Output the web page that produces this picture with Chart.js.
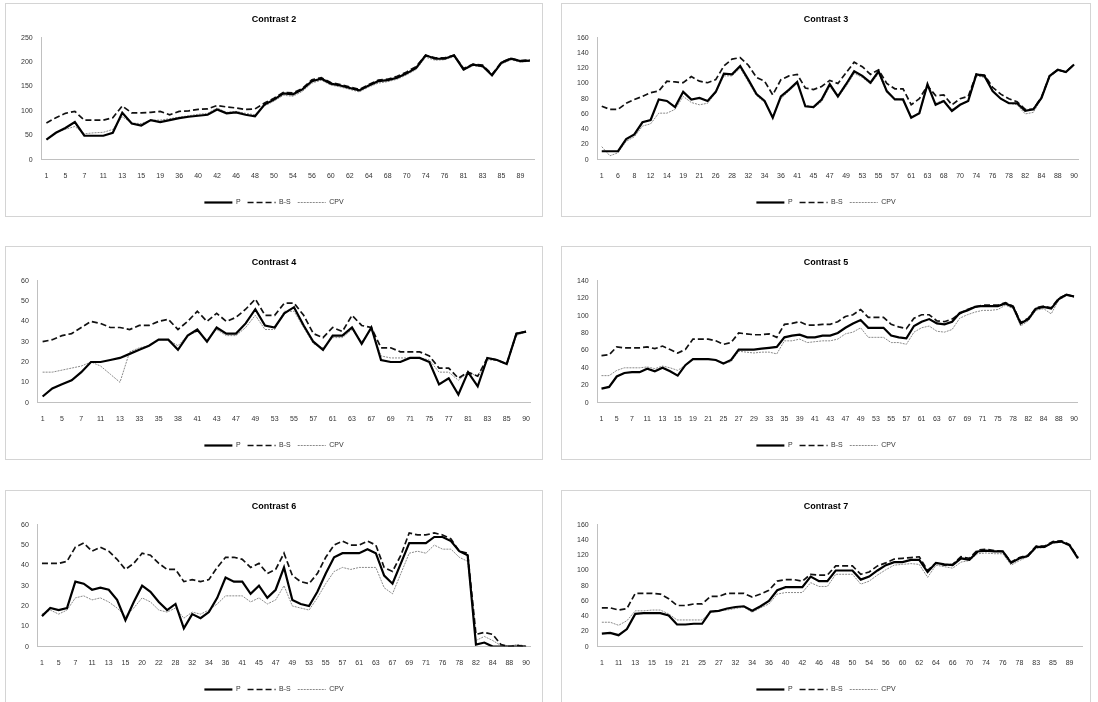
<!DOCTYPE html>
<html>
<head>
<meta charset="utf-8">
<script src="https://cdn.jsdelivr.net/npm/chart.js@4.4.0/dist/chart.umd.min.js"></script>
<style>
  html, body { margin: 0; padding: 0; background: #fff; }
  body { width: 1098px; height: 702px; position: relative; overflow: hidden; }
  .box { position: absolute; border: 1px solid #d4d4d4; background: #fff; box-sizing: border-box; }
  .box canvas { position: absolute; left: 0; top: 0; }
</style>
</head>
<body>
<div class="box" id="b1" style="left:5px;top:3px;width:538px;height:214px;"><canvas id="c1" width="536" height="212"></canvas></div>
<div class="box" id="b2" style="left:561px;top:3px;width:530px;height:214px;"><canvas id="c2" width="528" height="212"></canvas></div>
<div class="box" id="b3" style="left:5px;top:246px;width:538px;height:214px;"><canvas id="c3" width="536" height="212"></canvas></div>
<div class="box" id="b4" style="left:561px;top:246px;width:530px;height:214px;"><canvas id="c4" width="528" height="212"></canvas></div>
<div class="box" id="b5" style="left:5px;top:490px;width:538px;height:214px;"><canvas id="c5" width="536" height="212"></canvas></div>
<div class="box" id="b6" style="left:561px;top:490px;width:530px;height:214px;"><canvas id="c6" width="528" height="212"></canvas></div>
<script>
// ---------- Contrast 2 ----------
const c2Labels = [1,3,5,6,7,9,11,12,13,14,15,17,19,33,36,38,40,41,42,44,46,47,48,49,50,52,54,55,56,58,60,61,62,63,64,66,68,69,70,72,74,75,76,79,81,82,83,84,85,87,89,90];
const c2P   = [41,55,65,77,49,49,49,55,96,74,70,81,77,81,85,88,90,92,103,95,97,92,89,113,123,136,134,144,161,166,156,152,147,142,152,161,163,168,177,188,214,207,207,214,185,195,192,173,199,207,202,203];
const c2BS  = [75,86,95,99,81,81,81,86,110,96,96,97,99,92,99,100,103,104,111,108,106,103,104,116,126,138,137,146,164,168,158,154,149,144,154,163,165,171,180,191,214,209,209,214,187,196,194,175,200,208,203,205];
const c2CPV = [41,56,62,68,53,55,56,62,88,75,74,81,81,84,87,90,93,95,106,97,99,95,92,110,120,132,130,140,157,163,153,149,144,139,149,157,160,165,174,185,210,204,205,211,183,193,190,172,196,205,200,202];

// ---------- Contrast 3 ----------
const c3Labels = [1,4,6,7,8,10,12,13,14,17,19,20,21,24,26,27,28,30,32,33,34,35,36,39,41,43,45,46,47,48,49,51,53,54,55,56,57,59,61,62,63,66,68,69,70,72,74,75,76,77,78,80,82,83,84,86,88,89,90];
const c3P   = [11,11,11,27,33,49,52,79,77,69,89,79,81,77,89,113,112,123,105,86,77,55,83,92,102,70,69,79,99,83,99,116,110,101,116,90,79,79,55,61,99,72,77,64,72,77,112,110,90,80,74,74,64,66,81,110,118,115,125];
const c3BS  = [70,66,66,74,79,83,88,90,103,102,101,109,103,101,105,123,132,134,124,108,103,85,105,110,112,94,92,96,104,100,114,128,122,112,118,100,93,93,72,80,97,84,85,72,80,83,112,111,95,86,80,76,66,66,82,110,118,115,125];
const c3CPV = [17,5,9,24,30,44,47,61,61,66,83,75,72,74,88,110,110,120,102,84,75,57,80,90,100,72,68,76,96,82,96,113,108,99,113,88,80,78,57,60,96,74,78,66,72,76,110,108,90,80,74,72,60,62,80,108,117,115,124];

// ---------- Contrast 4 ----------
const c4Labels = [1,3,5,6,7,9,11,12,13,31,33,34,35,37,38,40,41,42,43,45,47,48,49,51,53,54,55,56,57,59,61,62,63,65,67,68,69,70,71,73,75,76,77,79,81,82,83,84,85,88,90];
const c4P   = [3,7,9,11,15,20,20,21,22,24,26,28,31,31,26,33,36,30,37,34,34,39,46,38,37,44,47,38,30,26,33,33,37,29,37,21,20,20,22,22,20,9,12,4,15,8,22,21,19,34,35];
const c4BS  = [30,31,33,34,37,40,39,37,37,36,38,38,40,41,36,40,45,40,44,40,42,46,51,43,43,49,49,43,34,32,37,35,43,38,37,27,27,25,25,25,23,17,17,12,15,13,22,21,19,34,35];
const c4CPV = [15,15,16,17,18,20,18,14,10,25,27,28,31,31,28,33,35,31,36,33,33,37,43,36,36,45,45,37,29,27,32,32,36,30,36,23,22,22,22,22,21,15,15,11,15,13,21,21,19,33,35];

// ---------- Contrast 5 ----------
const c5Labels = [1,3,5,6,7,9,11,12,13,14,15,17,19,20,21,23,25,26,27,28,29,31,33,34,35,37,39,40,41,42,43,45,47,48,49,51,53,54,55,56,57,59,61,62,63,65,67,68,69,70,71,73,75,77,78,80,82,83,84,86,88,89,90];
const c5P   = [16,18,30,34,35,35,39,36,40,36,31,43,50,50,50,49,45,49,61,61,61,62,63,64,75,77,78,75,75,77,77,80,86,91,95,86,86,86,77,75,74,88,93,96,91,90,93,103,106,110,111,111,111,114,110,91,96,108,110,108,119,124,122];
const c5BS  = [54,55,64,63,63,63,64,62,65,61,57,61,73,73,73,71,67,69,80,79,78,78,79,75,90,91,93,89,89,90,90,93,99,101,107,98,98,98,90,87,85,97,101,101,94,93,96,102,107,110,112,112,112,115,111,92,97,109,111,109,120,124,122];
const c5CPV = [31,31,37,40,40,40,41,39,42,40,37,43,50,50,50,49,45,47,59,58,57,58,58,56,71,71,73,69,70,71,71,73,79,81,86,75,75,75,69,69,67,81,86,88,82,81,84,97,101,104,106,106,107,112,108,88,94,106,108,102,118,123,121];

// ---------- Contrast 6 ----------
const c6Labels = [1,3,5,6,7,9,11,12,13,14,15,18,20,21,22,25,28,30,32,33,34,35,36,39,41,43,45,46,47,48,49,51,53,54,55,56,57,59,61,62,63,65,67,68,69,70,71,74,76,77,78,80,82,83,84,86,88,89,90];
const c6P   = [15,19,18,19,32,31,28,29,28,23,13,22,30,27,22,18,21,9,16,14,17,24,34,32,32,26,30,24,28,39,23,21,20,27,36,44,46,46,46,48,46,35,31,41,51,51,51,54,54,52,47,45,1,2,0,0,0,0,0];
const c6BS  = [41,41,41,42,49,51,47,49,47,43,38,41,46,45,41,38,38,32,33,32,33,39,44,44,43,39,41,36,38,46,35,32,31,36,44,50,52,50,50,52,50,39,37,45,56,55,55,56,55,53,47,46,6,7,6,1,0,0.5,0];
const c6CPV = [16,18,16,18,24,25,23,24,22,19,15,19,24,22,18,17,19,14,17,16,18,21,25,25,25,22,24,21,23,30,20,19,18,24,31,37,39,38,39,39,39,29,26,36,46,47,46,50,48,48,44,42,3,5,3,0.5,0.3,1,0.3];

// ---------- Contrast 7 ----------
const c7Labels = [1,6,11,12,13,14,15,17,19,20,21,23,25,26,27,29,32,33,34,35,36,38,40,41,42,44,46,47,48,49,50,52,54,55,56,58,60,61,62,63,64,65,66,68,70,72,74,75,76,77,78,80,83,84,85,87,89,90];
const c7P   = [17,18,15,23,43,44,44,44,41,29,29,30,30,46,47,50,52,53,47,53,60,74,78,78,78,92,86,86,100,100,100,88,92,100,107,111,111,114,114,98,110,108,107,116,114,125,126,125,125,110,116,119,131,131,137,138,133,116];
const c7BS  = [51,51,48,50,70,70,70,69,63,54,54,56,56,66,66,70,70,70,65,69,74,86,88,88,86,95,94,94,106,106,106,95,98,106,110,115,116,117,118,100,110,107,108,118,116,127,128,126,125,111,117,120,132,132,138,139,134,117];
const c7CPV = [32,32,28,34,47,47,48,48,43,35,35,35,35,45,47,48,50,52,45,51,56,69,71,71,71,84,79,79,95,95,95,82,86,94,101,107,108,109,108,91,107,105,103,111,113,122,123,122,122,107,113,118,129,130,136,137,132,116];

const seriesNames = ['P', 'B-S', 'CPV'];

const FONT = "'Liberation Sans', Arial, sans-serif";

function legendItems(chart) {
  return chart.data.datasets.map(function (ds, i) {
    return {
      text: ds.label,
      fillStyle: ds.borderColor,
      strokeStyle: ds.borderColor,
      lineWidth: ds.borderWidth,
      lineDash: ds.borderDash || [],
      lineCap: 'butt',
      pointStyle: 'line',
      hidden: false,
      datasetIndex: i,
      fontColor: '#333'
    };
  });
}

function makeChart(id, title, labels, p, bs, cpv, yMax, yStep) {
  const ctx = document.getElementById(id).getContext('2d');
  return new Chart(ctx, {
    type: 'line',
    data: {
      labels: labels,
      datasets: [
        { label: seriesNames[0], data: p, borderColor: '#000', backgroundColor: '#000', borderWidth: 2.2, pointRadius: 0, pointStyle: 'line', tension: 0 },
        { label: seriesNames[1], data: bs, borderColor: '#111', backgroundColor: '#111', borderWidth: 1.7, borderDash: [6, 3], pointRadius: 0, pointStyle: 'line', tension: 0 },
        { label: seriesNames[2], data: cpv, borderColor: '#8a8a8a', backgroundColor: '#8a8a8a', borderWidth: 1, borderDash: [2, 1], pointRadius: 0, pointStyle: 'line', tension: 0 }
      ]
    },
    options: {
      responsive: false,
      animation: false,
      events: [],
      layout: { padding: { left: 6, right: 6, top: 0, bottom: 0 } },
      plugins: {
        title: { display: true, text: title, color: '#000', font: { family: FONT, size: 9, weight: 'bold' }, padding: { top: 10, bottom: 13 } },
        legend: {
          position: 'bottom',
          labels: { usePointStyle: true, pointStyleWidth: 28, boxHeight: 6, color: '#333', font: { family: FONT, size: 7 }, padding: 7, generateLabels: legendItems }
        },
        tooltip: { enabled: false }
      },
      scales: {
        x: {
          offset: true,
          grid: { display: true, drawOnChartArea: false, drawTicks: false },
          border: { display: true, color: '#c0c0c0', width: 1 },
          ticks: {
            autoSkip: false, maxRotation: 0, minRotation: 0, padding: 12,
            color: '#333', font: { family: FONT, size: 7 },
            callback: function (v, i) { return i % 2 === 0 ? labels[i] : ''; }
          }
        },
        y: {
          min: 0, max: yMax,
          grid: { display: true, drawOnChartArea: false, drawTicks: false },
          border: { display: true, color: '#c0c0c0', width: 1 },
          ticks: { stepSize: yStep, padding: 9, color: '#333', font: { family: FONT, size: 7 } }
        }
      }
    }
  });
}

makeChart('c1', 'Contrast 2', c2Labels, c2P, c2BS, c2CPV, 250, 50);
makeChart('c2', 'Contrast 3', c3Labels, c3P, c3BS, c3CPV, 160, 20);
makeChart('c3', 'Contrast 4', c4Labels, c4P, c4BS, c4CPV, 60, 10);
makeChart('c4', 'Contrast 5', c5Labels, c5P, c5BS, c5CPV, 140, 20);
makeChart('c5', 'Contrast 6', c6Labels, c6P, c6BS, c6CPV, 60, 10);
makeChart('c6', 'Contrast 7', c7Labels, c7P, c7BS, c7CPV, 160, 20);
</script>
</body>
</html>
